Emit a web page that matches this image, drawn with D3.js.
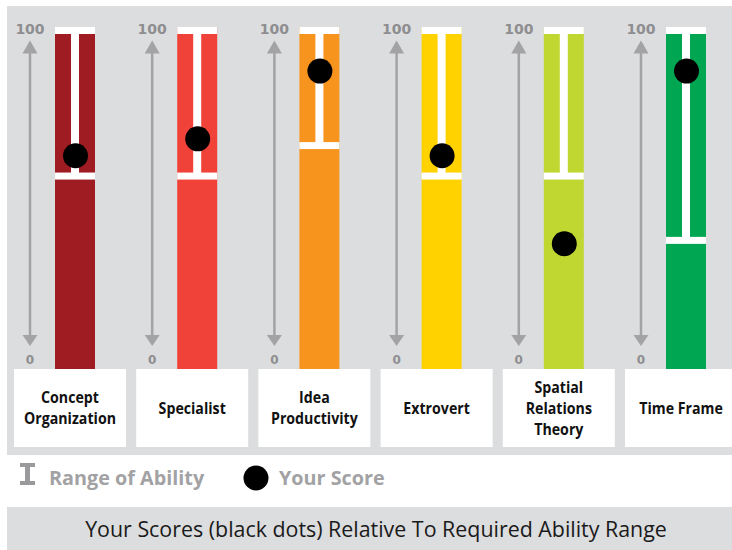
<!DOCTYPE html>
<html>
<head>
<meta charset="utf-8">
<script src="https://cdn.jsdelivr.net/npm/d3@7"></script>
<style>
  html, body { margin: 0; padding: 0; background: #ffffff; }
  svg { display: block; }
</style>
</head>
<body>
<div id="chart"></div>
<script>
// Trait names (one entry per line of the label box)
const categories = [
  ["Concept", "Organization"],
  ["Specialist"],
  ["Idea", "Productivity"],
  ["Extrovert"],
  ["Spatial", "Relations", "Theory"],
  ["Time Frame"]
];
// Required ability range (low / high ends) for each trait
const rangeLow  = [57, 57, 66, 57, 57, 38];
const rangeHigh = [100, 100, 100, 100, 100, 100];
// The person's score for each trait
const scores    = [63, 68, 88, 63, 37, 88];
// Column colours
const colors = ["#9f1c22", "#f1423a", "#f7941e", "#ffd200", "#bfd730", "#00a651"];
// Scale end labels
const tickLabels = ["0", "100"];
const legendLabels = ["Range of Ability", "Your Score"];
const title = "Your Scores (black dots) Relative To Required Ability Range";

const W = 732, H = 550;
const panelGray = "#dcdddf";
const axisGray = "#a3a3a5";
const labelFont = "'Open Sans', sans-serif";
const narrow = 0.86;   // horizontal squeeze for the condensed label face

const svg = d3.select("#chart").append("svg")
  .attr("width", W).attr("height", H);

// background layers
svg.append("rect").attr("x", 7).attr("y", 6).attr("width", W - 7).attr("height", 449).attr("fill", panelGray);
svg.append("rect").attr("x", 7).attr("y", 507).attr("width", W - 7).attr("height", H - 507).attr("fill", panelGray);

// column band: each column holds axis, bar and label box
const x = d3.scaleBand()
  .domain(d3.range(categories.length))
  .range([14, 14 + 122.2 * 6])
  .paddingInner(0);

const capH = 7;
const y = d3.scaleLinear().domain([0, 100]).range([369, 30.5]);

const barW = 40, stemW = 8;

const col = svg.selectAll("g.col")
  .data(categories.map((c, i) => ({ lines: c, i, low: rangeLow[i], high: rangeHigh[i], score: scores[i], color: colors[i] })))
  .join("g")
  .attr("class", "col")
  .attr("transform", d => `translate(${x(d.i)},0)`);

// vertical double-ended arrow
const axX = 16;
col.append("line")
  .attr("x1", axX).attr("x2", axX)
  .attr("y1", y(100) + 20).attr("y2", y(0) - 32)
  .attr("stroke", axisGray).attr("stroke-width", 2.5);
col.append("path")
  .attr("d", `M${axX},${y(100) + 10} L${axX - 7.5},${y(100) + 23} L${axX + 7.5},${y(100) + 23} Z`)
  .attr("fill", axisGray);
col.append("path")
  .attr("d", `M${axX},${y(0) - 23} L${axX - 7.5},${y(0) - 34} L${axX + 7.5},${y(0) - 34} Z`)
  .attr("fill", axisGray);
col.append("text")
  .attr("x", axX).attr("y", y(100) + 3)
  .attr("text-anchor", "middle")
  .attr("font-family", "DejaVu Sans, sans-serif").attr("font-weight", "bold")
  .attr("font-size", 14).attr("fill", "#8e8e90")
  .text(tickLabels[1]);
col.append("text")
  .attr("x", axX).attr("y", y(0) - 5)
  .attr("text-anchor", "middle")
  .attr("font-family", "DejaVu Sans, sans-serif").attr("font-weight", "bold")
  .attr("font-size", 12).attr("fill", "#8e8e90")
  .text(tickLabels[0]);

// coloured bar spanning 0..100
const barX = 41;
col.append("rect")
  .attr("x", barX).attr("width", barW)
  .attr("y", y(100) - capH / 2).attr("height", y(0) - y(100) + capH / 2)
  .attr("fill", d => d.color);

// range marker (I-beam)
const mid = barX + barW / 2;
col.append("rect")
  .attr("x", mid - stemW / 2).attr("width", stemW)
  .attr("y", d => y(d.high)).attr("height", d => y(d.low) - y(d.high))
  .attr("fill", "#ffffff");
col.append("rect")
  .attr("x", barX).attr("width", barW)
  .attr("y", d => y(d.high) - capH / 2).attr("height", capH)
  .attr("fill", "#ffffff");
col.append("rect")
  .attr("x", barX).attr("width", barW)
  .attr("y", d => y(d.low) - capH / 2).attr("height", capH)
  .attr("fill", "#ffffff");

// score dot
col.append("circle")
  .attr("cx", mid + 0.5).attr("cy", d => y(d.score))
  .attr("r", 12.5)
  .attr("fill", "#000000");

// label box
const boxW = 112;
col.append("rect")
  .attr("x", 0).attr("y", 369).attr("width", boxW).attr("height", 78)
  .attr("fill", "#ffffff");
col.append("g")
  .attr("transform", `translate(${boxW / 2},0) scale(${narrow},1)`)
  .append("text")
  .attr("text-anchor", "middle")
  .attr("font-family", labelFont)
  .attr("font-weight", "bold")
  .attr("font-size", 16.5)
  .attr("fill", "#111111")
  .each(function(d) {
    const t = d3.select(this);
    const lh = 21;
    const top = 408 - (d.lines.length - 1) * lh / 2;
    d.lines.forEach((ln, k) => {
      t.append("tspan").attr("x", 0).attr("y", top + k * lh + 6).text(ln);
    });
  });

// legend
const legend = svg.append("g").attr("class", "legend");
legend.append("path")
  .attr("d", "M20,463 h15 v4 h-5 v14 h5 v4 h-15 v-4 h5 v-14 h-5 z")
  .attr("fill", "#9a9a9c");
legend.append("text")
  .attr("x", 49).attr("y", 485)
  .attr("font-family", labelFont)
  .attr("font-weight", "bold").attr("font-size", 19.8)
  .attr("fill", "#a2a2a4")
  .text(legendLabels[0]);
legend.append("circle")
  .attr("cx", 256).attr("cy", 478).attr("r", 12.5).attr("fill", "#000");
legend.append("text")
  .attr("x", 279).attr("y", 485)
  .attr("font-family", labelFont)
  .attr("font-weight", "bold").attr("font-size", 19.8)
  .attr("fill", "#a2a2a4")
  .text(legendLabels[1]);

// title bar
svg.append("text")
  .attr("x", 376).attr("y", 537)
  .attr("text-anchor", "middle")
  .attr("font-family", "'Open Sans', sans-serif")
  .attr("font-size", 21.4)
  .attr("fill", "#1a1a1a")
  .text(title);
</script>
</body>
</html>
